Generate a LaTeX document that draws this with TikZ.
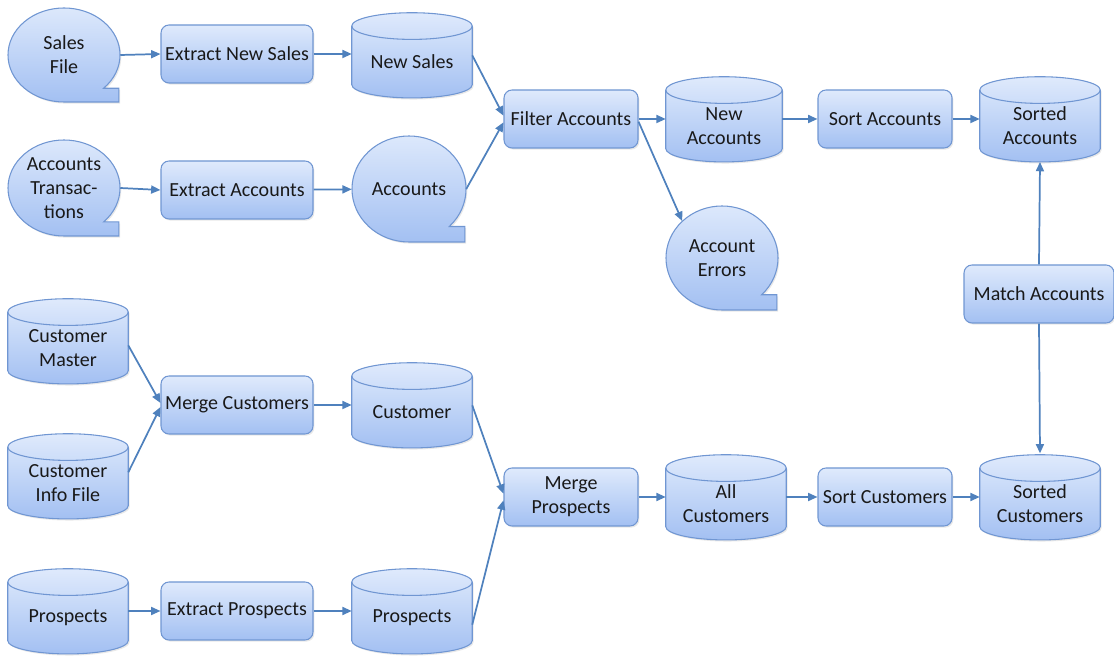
\documentclass[tikz,border=0pt]{standalone}
\usepackage{fontspec}
\setmainfont{Carlito}
\usetikzlibrary{arrows.meta, positioning, calc, shapes.geometric, shadows, backgrounds}

\definecolor{boxtop}{RGB}{223,234,252}
\definecolor{boxbot}{RGB}{163,192,242}
\definecolor{boxline}{RGB}{112,150,210}
\definecolor{flow}{RGB}{79,129,189}

\tikzset{
  shaded/.style={draw=boxline, line width=0.8pt, top color=boxtop, bottom color=boxbot,
    drop shadow={opacity=0.18, shadow xshift=1pt, shadow yshift=-1.2pt}},
  rim/.style={draw=boxline, line width=0.8pt},
  process/.style={shaded, rounded corners=6pt, align=center, minimum height=43.5pt, minimum width=114pt, inner sep=2pt},
  store/.style={rectangle, align=center, minimum width=90pt, minimum height=33.5pt, inner sep=0pt},
  tapespot/.style={ellipse, align=center, inner sep=0pt},
  flowline/.style={-{Triangle[length=7pt, width=6pt]}, draw=flow, line width=1.3pt},
  every node/.style={font=\fontsize{15}{18}\selectfont, text=black!90}
}

% sequential (tape) storage outline round a named spot
\newcommand{\tapeshape}[3]{%
  \shade[shaded] (#1.center) ++(-45:#2 and #3)
    arc[start angle=-45, end angle=270, x radius=#2, y radius=#3]
    -- ++(0.98*#2,0) -- ++(0,0.293*#3) -- cycle;
}

% disk store: body under a lid of 10pt, bottom rim centred on the node's south
\newcommand{\storeshape}[1]{%
  \shade[shaded] let \p1 = ($(#1.east)-(#1.west)$) in
    ([yshift=10pt]#1.north west) -- (#1.south west)
    arc[start angle=180, end angle=360, x radius=0.5*\x1, y radius=10pt]
    -- ([yshift=10pt]#1.north east)
    arc[start angle=0, end angle=180, x radius=0.5*\x1, y radius=10pt] -- cycle;
  \draw[rim] let \p1 = ($(#1.east)-(#1.west)$) in
    ([yshift=10pt]#1.north west)
    arc[start angle=180, end angle=360, x radius=0.5*\x1, y radius=10pt];
}

\begin{document}
\begin{tikzpicture}[x=0.75pt, y=0.75pt]
  \useasboundingbox (0,0) rectangle (1114,657);

  % accounts side
  \node[tapespot, minimum width=84pt, minimum height=70.5pt] (salesfile) at (64,602) {Sales\\File};
  \node[process] (extractsales) at (237,603) {Extract New Sales};
  \node[store] (newsales) at (412,595) {New Sales};
  \node[tapespot, minimum width=84pt, minimum height=72pt] (acctrans) at (64,469) {Accounts\\Transac-\\tions};
  \node[process] (extractacc) at (237,467) {Extract Accounts};
  \node[tapespot, minimum width=85.5pt, minimum height=79.5pt] (accounts) at (409,468) {Accounts};
  \node[process, minimum width=100.5pt] (filteracc) at (571,538) {Filter Accounts};
  \node[store, minimum width=87pt] (newacc) at (724,531) {New\\Accounts};
  \node[tapespot, minimum width=84pt, minimum height=78pt] (accerrors) at (722,399) {Account\\Errors};
  \node[process, minimum width=100.5pt] (sortacc) at (885,538) {Sort Accounts};
  \node[store] (sortedacc) at (1040,531) {Sorted\\Accounts};
  \node[process, minimum width=112.5pt] (matchacc) at (1039,363) {Match Accounts};

  % customer side
  \node[store] (custmaster) at (68,309) {Customer\\Master};
  \node[store] (custinfo) at (68,174) {Customer\\Info File};
  \node[process] (mergecust) at (237,252) {Merge Customers};
  \node[store] (customer) at (412,245) {Customer};
  \node[process, minimum width=100.5pt] (mergeprosp) at (571,160) {Merge\\Prospects};
  \node[store] (allcust) at (726,153) {All\\Customers};
  \node[process, minimum width=100.5pt] (sortcust) at (885,160) {Sort Customers};
  \node[store] (sortedcust) at (1040,153) {Sorted\\Customers};
  \node[store] (prospects) at (68,39) {Prospects};
  \node[process] (extractprosp) at (237,46) {Extract Prospects};
  \node[store] (prospfile) at (412,39) {Prospects};

  \begin{scope}[on background layer]
    \tapeshape{salesfile}{42pt}{35.25pt}
    \tapeshape{acctrans}{42pt}{36pt}
    \tapeshape{accounts}{42.75pt}{39.75pt}
    \tapeshape{accerrors}{42pt}{39pt}
    \foreach \s in {newsales, newacc, sortedacc, custmaster, custinfo, customer,
                    allcust, sortedcust, prospects, prospfile}
      {\storeshape{\s}}
  \end{scope}

  % flows
  \draw[flowline] (salesfile.east) -- (extractsales.west);
  \draw[flowline] (extractsales.east) -- (extractsales.east -| newsales.west);
  \draw[flowline] ([yshift=5pt]newsales.east) -- ([yshift=2.5pt]filteracc.west);
  \draw[flowline] (acctrans.east) -- (extractacc.west);
  \draw[flowline] (extractacc) -- (accounts);
  \draw[flowline] (accounts.east) -- ([yshift=-2.5pt]filteracc.west);
  \draw[flowline] (filteracc.east) -- (filteracc.east -| newacc.west);
  \draw[flowline] ([yshift=-2pt]filteracc.east) -- (accerrors.north west);
  \draw[flowline] (newacc.east |- sortacc.west) -- (sortacc.west);
  \draw[flowline] (sortacc.east) -- (sortacc.east -| sortedacc.west);
  \draw[flowline] (matchacc.north) -- ([yshift=-10pt]sortedacc.south);
  \draw[flowline] (matchacc.south) -- ([yshift=21pt]sortedcust.north);

  \draw[flowline] ([yshift=2pt]custmaster.east) -- ([yshift=1.5pt]mergecust.west);
  \draw[flowline] ([yshift=8pt]custinfo.east) -- ([yshift=-1.5pt]mergecust.west);
  \draw[flowline] (mergecust.east) -- (mergecust.east -| customer.west);
  \draw[flowline] ([yshift=5pt]customer.east) -- ([yshift=2.5pt]mergeprosp.west);
  \draw[flowline] ([yshift=-5pt]prospfile.east) -- ([yshift=-2.5pt]mergeprosp.west);
  \draw[flowline] (prospects.east |- extractprosp.west) -- (extractprosp.west);
  \draw[flowline] (extractprosp.east) -- (extractprosp.east -| prospfile.west);
  \draw[flowline] (mergeprosp.east) -- (mergeprosp.east -| allcust.west);
  \draw[flowline] (allcust.east |- sortcust.west) -- (sortcust.west);
  \draw[flowline] (sortcust.east) -- (sortcust.east -| sortedcust.west);
\end{tikzpicture}
\end{document}
